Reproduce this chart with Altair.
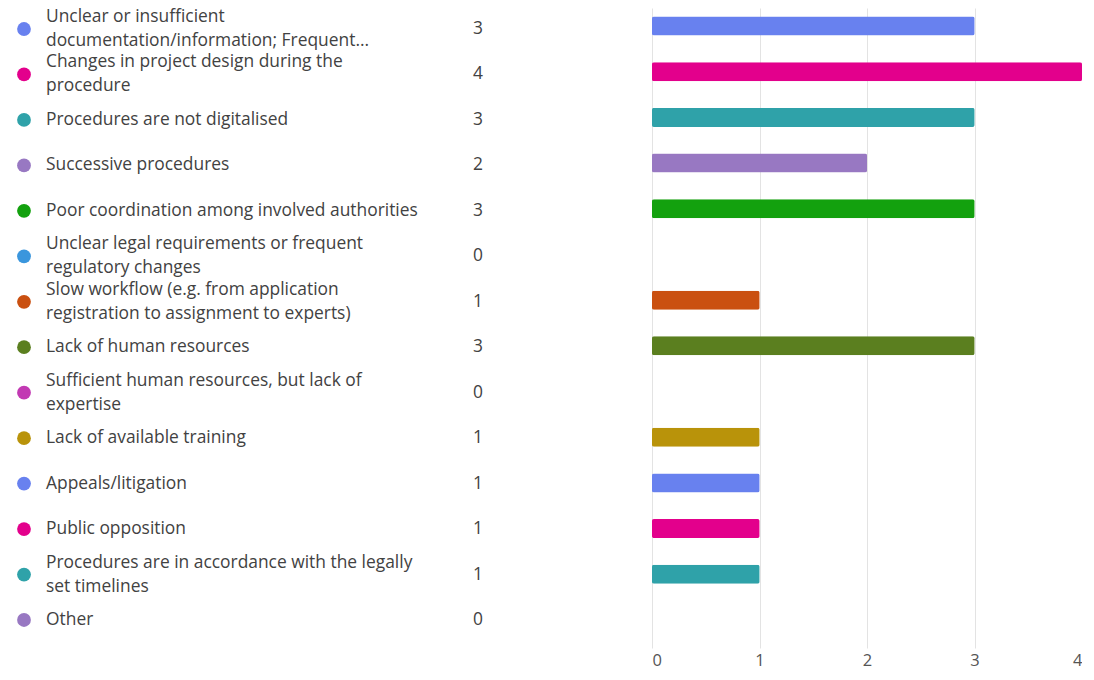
import altair as alt
import pandas as pd

labels = [
    "Unclear or insufficient\ndocumentation/information; Frequent...",
    "Changes in project design during the\nprocedure",
    "Procedures are not digitalised",
    "Successive procedures",
    "Poor coordination among involved authorities",
    "Unclear legal requirements or frequent\nregulatory changes",
    "Slow workflow (e.g. from application\nregistration to assignment to experts)",
    "Lack of human resources",
    "Sufficient human resources, but lack of\nexpertise",
    "Lack of available training",
    "Appeals/litigation",
    "Public opposition",
    "Procedures are in accordance with the legally\nset timelines",
    "Other",
]
counts = [3, 4, 3, 2, 3, 0, 1, 3, 0, 1, 1, 1, 1, 0]
palette = [
    "#6881EF", "#E3008C", "#2FA2A9", "#9878C2", "#13A10E", "#3A96DD", "#CA5010",
    "#5B7F1F", "#C239B3", "#B9930A", "#6881EF", "#E3008C", "#2FA2A9", "#9878C2",
]
x_ticks = [0, 1, 2, 3, 4]

df = pd.DataFrame({"label": labels, "count": counts, "row": list(range(len(labels)))})

FONT = "Open Sans"
FS = 17.4
LH = 24
TEXT_COLOR = "#424242"
H = 640


def yenc(dom):
    return alt.Y("row:Q", scale=alt.Scale(domain=dom, reverse=True, nice=False,
                                          zero=False, padding=0), axis=None)


y_left = yenc([-0.462, 13.616])
y_right = yenc([-0.394, 13.613])
cscale = alt.Scale(domain=labels, range=palette)

base_left = alt.Chart(df).properties(width=644, height=H)

dots = base_left.mark_point(filled=True, shape="circle", size=190, opacity=1).encode(
    x=alt.value(16),
    y=y_left,
    color=alt.Color("label:N", scale=cscale, legend=None),
)
one_line = base_left.transform_filter(
    "indexof(datum.label, '\\n') < 0"
).mark_text(
    align="left", baseline="middle", font=FONT, fontSize=FS, color=TEXT_COLOR,
).encode(x=alt.value(38), y=y_left, text="label:N")
two_line = base_left.transform_filter(
    "indexof(datum.label, '\\n') >= 0"
).mark_text(
    align="left", baseline="middle", lineBreak="\n", lineHeight=LH, dy=-LH / 2,
    font=FONT, fontSize=FS, color=TEXT_COLOR,
).encode(x=alt.value(38), y=y_left, text="label:N")
nums = base_left.mark_text(
    align="center", baseline="middle", font=FONT, fontSize=FS, color=TEXT_COLOR,
).encode(x=alt.value(470), y=y_left, text="count:Q")

left = alt.layer(dots, one_line, two_line, nums)

bars = alt.Chart(df).mark_bar(
    orient="horizontal", size=19, cornerRadius=2, strokeWidth=1, strokeOpacity=0.5,
).encode(
    x=alt.X("count:Q", scale=alt.Scale(domain=[0, 4], nice=False),
            axis=alt.Axis(values=x_ticks, title=None, domain=False, ticks=False,
                          grid=True, gridColor="#e3e3e3", gridWidth=1,
                          labelFont=FONT, labelFontSize=16.5, labelColor="#555555",
                          labelPadding=4, format="d")),
    y=y_right,
    color=alt.Color("label:N", scale=cscale, legend=None),
    stroke=alt.Color("label:N", scale=cscale, legend=None),
).properties(width=430, height=H)

chart = alt.hconcat(left, bars, spacing=0).properties(
    padding={"left": 0, "top": 0, "right": 0, "bottom": 0},
    background="white",
).configure_view(strokeWidth=0)

chart.save("out.html", embed_options={"renderer": "svg", "actions": False})
